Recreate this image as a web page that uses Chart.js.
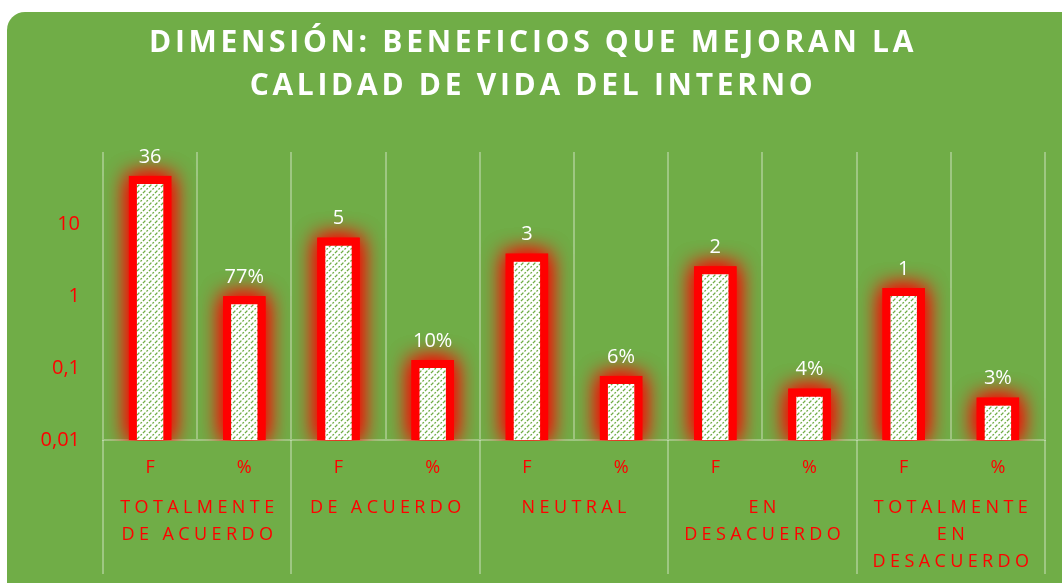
<!DOCTYPE html>
<html>
<head>
<meta charset="utf-8">
<script src="https://cdn.jsdelivr.net/npm/chart.js@4.4.1/dist/chart.umd.min.js"></script>
<style>
    html, body { margin: 0; padding: 0; background: #fff; }
    #wrap { width: 1062px; height: 583px; }
</style>
</head>
<body>
<div id="wrap"><canvas id="chartBeneficios" width="1062" height="583"></canvas></div>
<script>
var titulo = ['DIMENSIÓN: BENEFICIOS QUE MEJORAN LA', 'CALIDAD DE VIDA DEL INTERNO'];
var grupos = [['TOTALMENTE', 'DE ACUERDO'], ['DE ACUERDO'], ['NEUTRAL'], ['EN', 'DESACUERDO'], ['TOTALMENTE', 'EN', 'DESACUERDO']];
var subEtiquetas = ['F', '%', 'F', '%', 'F', '%', 'F', '%', 'F', '%'];
var valores = [36, 0.77, 5, 0.10, 3, 0.06, 2, 0.04, 1, 0.03];
var etiquetasValor = ['36', '77%', '5', '10%', '3', '6%', '2', '4%', '1', '3%'];
var ticksY = [0.01, 0.1, 1, 10];
var ticksYTexto = ['0,01', '0,1', '1', '10'];

var verde = '#70AD47';
var rojo = '#FF0000';
var lineaClara = 'rgba(255,255,255,0.32)';

var canvas = document.getElementById('chartBeneficios');
var ctx = canvas.getContext('2d');

// relleno rayado blanco/verde de las barras
function rayado() {
    var c = document.createElement('canvas');
    c.width = 6;
    c.height = 6;
    var x = c.getContext('2d');
    x.fillStyle = '#fff';
    x.fillRect(0, 0, 6, 6);
    x.strokeStyle = verde;
    x.lineWidth = 1.3;
    x.setLineDash([2, 1.5]);
    x.beginPath();
    x.moveTo(0, 6); x.lineTo(6, 0);
    x.moveTo(-1, 1); x.lineTo(1, -1);
    x.moveTo(5, 7); x.lineTo(7, 5);
    x.stroke();
    return ctx.createPattern(c, 'repeat');
}

var decorado = {
    id: 'decorado',
    beforeDraw: function (chart) {
        var c = chart.ctx;
        c.save();
        c.fillStyle = verde;
        c.beginPath();
        c.roundRect(7, 12, 1090, 600, 18);
        c.fill();

        c.fillStyle = '#fff';
        c.font = 'bold 30px "Open Sans"';
        c.letterSpacing = '3.7px';
        c.textAlign = 'center';
        c.textBaseline = 'middle';
        c.fillText(titulo[0], 533, 43);
        c.fillText(titulo[1], 533, 86);
        c.restore();
    },
    beforeDatasetsDraw: function (chart) {
        var c = chart.ctx, area = chart.chartArea;
        var xs = chart.scales.x;
        var paso = xs.getPixelForValue(1) - xs.getPixelForValue(0);

        // lineas separadoras de grupos bajo el eje
        c.save();
        c.strokeStyle = lineaClara;
        c.lineWidth = 2;
        c.beginPath();
        for (var i = 0; i <= grupos.length; i++) {
            var px = Math.round(xs.getPixelForValue(i * 2) - paso / 2);
            c.moveTo(px, area.bottom);
            c.lineTo(px, 574);
        }
        c.stroke();
        c.restore();

        // borde rojo con resplandor
        c.save();
        c.beginPath();
        c.rect(0, 0, chart.width, area.bottom + 1);
        c.clip();
        c.shadowColor = rojo;
        c.shadowBlur = 22;
        c.fillStyle = rojo;
        for (var k = 0; k < 2; k++) {
            chart.getDatasetMeta(0).data.forEach(function (bar) {
                var p = bar.getProps(['x', 'y', 'base', 'width'], true);
                c.fillRect(p.x - p.width / 2 - 8, p.y - 8, p.width + 16, p.base - p.y + 8);
            });
        }
        c.restore();
    },
    afterDatasetsDraw: function (chart) {
        var c = chart.ctx;
        c.save();
        c.fillStyle = '#fff';
        c.font = '20px "Open Sans"';
        c.textAlign = 'center';
        c.textBaseline = 'middle';
        chart.getDatasetMeta(0).data.forEach(function (bar, i) {
            c.fillText(etiquetasValor[i], bar.x, bar.y - 27);
        });
        c.restore();
    }
};

new Chart(ctx, {
    type: 'bar',
    data: {
        labels: subEtiquetas,
        datasets: [{
            data: valores,
            backgroundColor: rayado(),
            borderWidth: 0,
            barPercentage: 0.28,
            categoryPercentage: 1
        }]
    },
    options: {
        responsive: false,
        animation: false,
        layout: { padding: { top: 152, right: 17, left: 0, bottom: 0 } },
        plugins: {
            legend: { display: false },
            tooltip: { enabled: false },
            title: { display: false }
        },
        scales: {
            y: {
                type: 'logarithmic',
                min: 0.01,
                max: 100,
                border: { display: false },
                grid: { display: false, drawTicks: false },
                afterBuildTicks: function (s) {
                    s.ticks = ticksY.concat([100]).map(function (v) { return { value: v }; });
                },
                afterFit: function (s) { s.width = 103; },
                ticks: {
                    color: rojo,
                    padding: 23,
                    font: { family: 'Open Sans', size: 20 },
                    callback: function (v) {
                        var i = ticksY.indexOf(v);
                        return i < 0 ? '' : ticksYTexto[i];
                    }
                }
            },
            x: {
                grid: { color: lineaClara, lineWidth: 2, offset: true, drawTicks: false },
                border: { color: lineaClara, width: 2 },
                ticks: { color: rojo, padding: 17, font: { family: 'Open Sans', size: 18 } },
                afterFit: function (s) { s.height = 48; }
            },
            x2: {
                type: 'category',
                labels: grupos,
                position: 'bottom',
                offset: true,
                grid: { display: false, drawTicks: false },
                border: { display: false },
                ticks: {
                    color: rojo,
                    padding: 6,
                    maxRotation: 0,
                    autoSkip: false,
                    labelOffset: 2.2,
                    font: { family: 'Open Sans', size: 18, lineHeight: '27px' }
                },
                afterFit: function (s) {
                    s.height = 95;
                    if (!s._espaciado) {
                        var dibujar = s.drawLabels;
                        s.drawLabels = function (a) {
                            var c = this.ctx;
                            c.save();
                            c.letterSpacing = '4.4px';
                            dibujar.call(this, a);
                            c.restore();
                        };
                        s._espaciado = true;
                    }
                }
            }
        }
    },
    plugins: [decorado]
});
</script>
</body>
</html>
